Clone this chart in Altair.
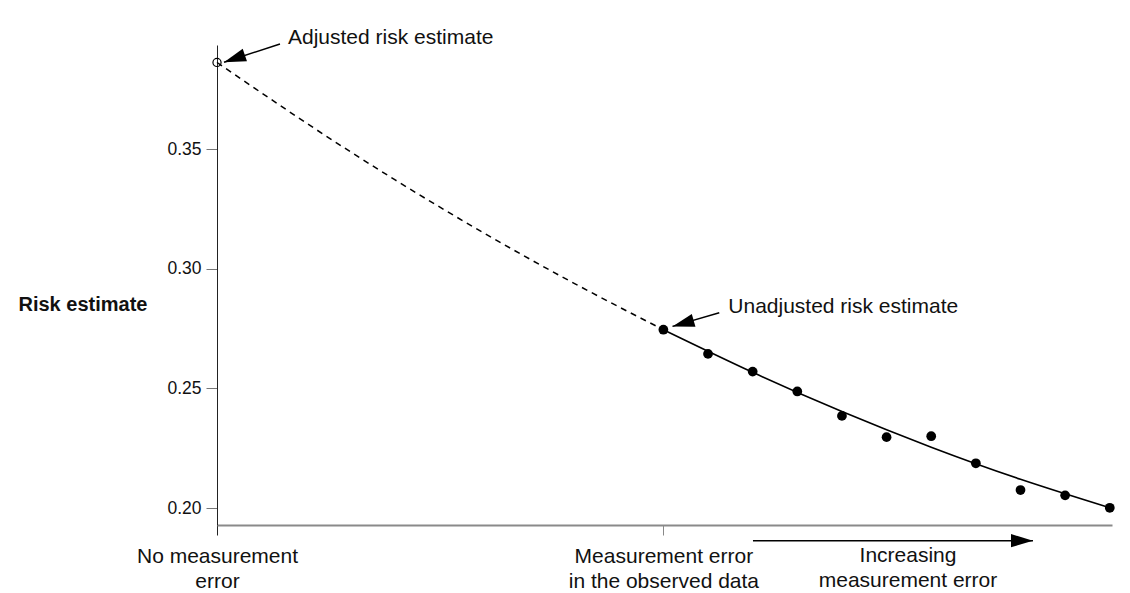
import json
import altair as alt
import pandas as pd

# ---------------- data ----------------
# simulated risk estimates at increasing (added) measurement error
lam = [0.0, 0.1, 0.2, 0.3, 0.4, 0.5, 0.6, 0.7, 0.8, 0.9, 1.0]
risk = [0.2745, 0.2644, 0.2570, 0.2487, 0.2385, 0.2296, 0.2300, 0.2187, 0.2075, 0.2053, 0.2001]

# fitted curve: dashed extrapolation and solid part
extrap_lam = [-1.0, -0.8, -0.6, -0.4, -0.2, 0.0]
extrap_risk = [0.3862, 0.3609, 0.3370, 0.3147, 0.2939, 0.2745]
fit_lam = [0.0, 0.2, 0.4, 0.6, 0.8, 1.0]
fit_risk = [0.2745, 0.2567, 0.2403, 0.2254, 0.2120, 0.2001]

# adjusted (extrapolated) estimate
adj_lam = [-1.0]
adj_risk = [0.3862]

# axis ticks and labels
y_ticks = [0.20, 0.25, 0.30, 0.35]
x_tick_values = [-1, 0]
x_tick_labels = [["No measurement", "error"], ["Measurement error", "in the observed data"]]

# annotations
ann_text = ["Adjusted risk estimate", "Unadjusted risk estimate"]
ann_lam = [-0.8410, 0.1454]
ann_risk = [0.3937, 0.2814]

arrow_tail_lam = [-0.8589, 0.1252, 0.2007]
arrow_tail_risk = [0.3939, 0.2816, 0.18634]
arrow_tip_lam = [-0.9843, 0.0204, 0.8280]
arrow_tip_risk = [0.3863, 0.2759, 0.18634]
arrow_angle = [161.2, 163.9, 0.0]

trend_text = ["Increasing\nmeasurement error"]
trend_lam = [0.548]
trend_risk = [0.18466]

# ---------------- tables ----------------
pts = pd.DataFrame({"lam": lam, "risk": risk})
extrap = pd.DataFrame({"lam": extrap_lam, "risk": extrap_risk})
fit = pd.DataFrame({"lam": fit_lam, "risk": fit_risk})
adj = pd.DataFrame({"lam": adj_lam, "risk": adj_risk})
ann = pd.DataFrame({"lam": ann_lam, "risk": ann_risk, "label": ann_text})
arrows = pd.DataFrame({"lam": arrow_tail_lam, "risk": arrow_tail_risk,
                       "lam2": arrow_tip_lam, "risk2": arrow_tip_risk,
                       "angle": arrow_angle})
heads = pd.DataFrame({"lam": arrow_tip_lam, "risk": arrow_tip_risk, "angle": arrow_angle})
trend = pd.DataFrame({"lam": trend_lam, "risk": trend_risk, "label": trend_text})

FONT = "Liberation Sans"
INK = "#111111"

label_expr = "datum.value < -0.5 ? {} : {}".format(
    json.dumps(x_tick_labels[0]), json.dumps(x_tick_labels[1]))

x_enc = alt.X(
    "lam:Q",
    scale=alt.Scale(domain=[-1.0, 1.005], nice=False, zero=False),
    axis=alt.Axis(
        values=x_tick_values, title=None, grid=False,
        labelExpr=label_expr, labelFont=FONT, labelFontSize=21, labelColor=INK,
        labelPadding=10, labelLineHeight=25, labelAlign="center", labelBaseline="top",
        labelFlush=False, labelOverlap=False, labelLimit=0,
        tickSize=10, tickWidth=1,
        tickColor={"condition": {"test": "datum.value === -1", "value": "#222222"}, "value": "#888888"},
        domainColor="#8a8a8a", domainWidth=2,
    ),
)
y_enc = alt.Y(
    "risk:Q",
    scale=alt.Scale(domain=[0.19290, 0.39349], nice=False, zero=False),
    axis=alt.Axis(
        values=y_ticks, format=".2f", grid=False,
        labelFont=FONT, labelFontSize=17.5, labelColor=INK, labelPadding=5, labelFlush=False,
        tickSize=11, tickColor="#777777", tickWidth=1,
        domainColor="#222222", domainWidth=1,
        title="Risk estimate", titleFont=FONT, titleFontSize=20, titleFontWeight="bold",
        titleColor=INK, titleAngle=0, titleAlign="left", titleBaseline="alphabetic",
        titleX=-199, titleY=265,
    ),
)

dashed = alt.Chart(extrap).mark_line(
    color="black", strokeWidth=1.5, strokeDash=[6, 5], interpolate="natural"
).encode(x=x_enc, y=y_enc)

solid = alt.Chart(fit).mark_line(
    color="black", strokeWidth=1.6, interpolate="natural"
).encode(x=x_enc, y=y_enc)

dots = alt.Chart(pts).mark_circle(size=95, color="black", opacity=1).encode(x=x_enc, y=y_enc)

open_dot = alt.Chart(adj).mark_point(
    shape="circle", filled=False, size=66, color="black", strokeWidth=1.2, opacity=1
).encode(x=x_enc, y=y_enc)

shafts = alt.Chart(arrows).mark_rule(color="black", strokeWidth=1.5).encode(
    x=x_enc, y=y_enc, x2="lam2:Q", y2="risk2:Q")

arrowheads = alt.Chart(heads).mark_point(
    shape="M 0 0 L -2 -0.6 L -2 0.6 Z", filled=True, size=484,
    color="black", opacity=1, strokeWidth=0
).encode(x=x_enc, y=y_enc, angle=alt.Angle("angle:Q", scale=None))

notes = alt.Chart(ann).mark_text(
    align="left", baseline="alphabetic", font=FONT, fontSize=21, color=INK
).encode(x=x_enc, y=y_enc, text="label:N")

trend_note = alt.Chart(trend).mark_text(
    align="center", baseline="top", font=FONT, fontSize=21, color=INK,
    lineBreak="\n", lineHeight=25
).encode(x=x_enc, y=y_enc, text="label:N")

chart = alt.layer(
    dashed, solid, dots, open_dot, shafts, arrowheads, notes, trend_note
).properties(
    width=895, height=480,
    autosize=alt.AutoSizeParams(type="none"),
    padding={"left": 209, "top": 37, "right": 10, "bottom": 85},
    background="white",
).configure_view(stroke=None)

chart.save("out.html", embed_options={"renderer": "svg", "actions": False})
